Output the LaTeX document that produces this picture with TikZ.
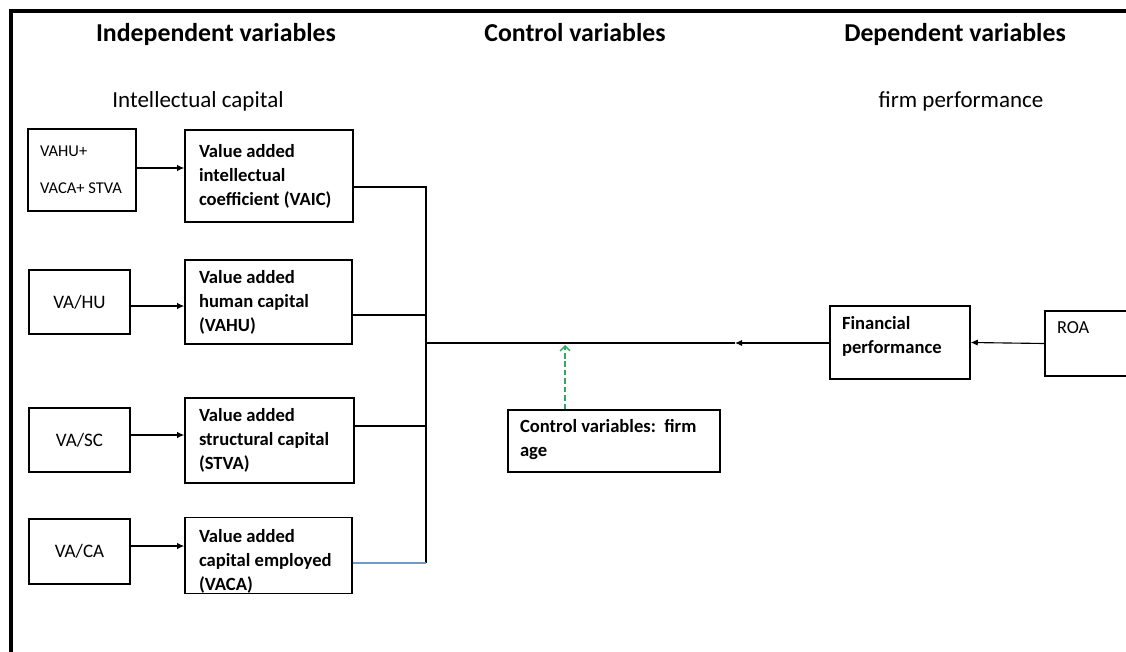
\documentclass[tikz,border=0pt]{standalone}
\usepackage{fontspec}
\setmainfont{Carlito}
\usetikzlibrary{arrows.meta,calc}
\definecolor{busblue}{HTML}{6F9BC4}
\definecolor{ctrlgreen}{HTML}{2FA864}
\tikzset{
  box/.style={draw, line width=1pt, inner xsep=0pt, inner ysep=0pt, align=flush left},
  bx/.style 2 args={minimum width=#1*0.709pt, minimum height=#2*0.709pt},
  bigbox/.style={box, font=\fontsize{13.2}{17}\selectfont\bfseries},
  smallbox/.style={box, align=center, font=\fontsize{13.5}{16}\selectfont},
  head/.style={anchor=base, font=\fontsize{18.3}{22}\selectfont\bfseries},
  subhead/.style={anchor=base, font=\fontsize{16.3}{19}\selectfont},
  conn/.style={line width=0.8pt},
  arr/.style={line width=0.8pt, -{Latex[length=5pt,width=4.5pt]}},
  ctrlarr/.style={line width=1pt, ctrlgreen, dashed, dash pattern=on 4pt off 2pt, -{Straight Barb[length=3.5pt,width=7pt]}},
}
\begin{document}
\begin{tikzpicture}[x=0.709pt,y=-0.709pt]
\useasboundingbox (0,0) rectangle (1126,652);
\clip (0,0) rectangle (1126,652);
% border
\draw[line width=3pt] (11,652) -- (11,11) -- (1130,11);
% headers
\node[head] (h1) at (216,42) {Independent variables};
\node[head] (h2) at (575,42) {Control variables};
\node[head] (h3) at (955,42) {Dependent variables};
\node[subhead] (s1) at (198,107) {Intellectual capital};
\node[subhead] (s3) at (961,107) {firm performance};
% left small boxes
\node[box, bx={108}{82}, text width=84*0.709pt, font=\fontsize{11.7}{14}\selectfont] (b0) at (82,170) {VAHU+\\[12pt]VACA+ STVA};
\node[smallbox, bx={101}{64}] (s2) at (79.5,302) {VA/HU};
\node[smallbox, bx={101}{64}] (s3b) at (79.5,440) {VA/SC};
\node[smallbox, bx={101}{65}] (s4) at (79.5,551.5) {VA/CA};
% middle boxes
\node[bigbox, bx={168}{92}, text width=140*0.709pt] (vaic) at (269,176) {Value added\\intellectual\\coefficient (VAIC)};
\node[bigbox, bx={167}{84}, text width=139*0.709pt] (vahu) at (268.5,302) {Value added\\human capital\\(VAHU)};
\node[bigbox, bx={169}{85}, text width=141*0.709pt] (stva) at (269.5,440.5) {Value added\\structural capital\\(STVA)};
\node[bigbox, bx={167}{73}, text width=139*0.709pt] (vaca) at (268.5,555.5) {\rule{0pt}{18pt}Value added\\capital employed\\(VACA)};
% right boxes
\node[bigbox, bx={212}{62}, text width=188*0.709pt] (ctrl) at (614,441) {Control variables:\ \ firm\\age\\[-13pt]\mbox{}};
\node[bigbox, bx={140}{73}, text width=116*0.709pt] (fp) at (900,342.5) {Financial\\performance\\[-6pt]\mbox{}};
\node[box, bx={115}{65}, text width=91*0.709pt, font=\fontsize{13}{22}\selectfont] (roa) at (1102.5,343.5) {ROA\\\mbox{}};
% arrows from small boxes
\draw[arr] (b0.east |- 0,168) coordinate (a0) -- (vaic.west |- a0);
\draw[arr] (s2.east |- 0,306) coordinate (a1) -- (vahu.west |- a1);
\draw[arr] (s3b.east |- 0,435) coordinate (a2) -- (stva.west |- a2);
\draw[arr] (s4.east |- 0,546) coordinate (a3) -- (vaca.west |- a3);
% bus
\coordinate (bA) at (426,187);
\coordinate (bB) at (426,315);
\coordinate (bC) at (426,426);
\coordinate (bD) at (426,563);
\coordinate (bM) at (426,343);
\coordinate (mid) at (735,343);
\coordinate (gx) at (565,345);
\draw[conn] (vaic.east |- bA) -- (bA) -- (bD);
\draw[conn] (vahu.east |- bB) -- (bB);
\draw[conn] (stva.east |- bC) -- (bC);
\draw[conn, busblue] (vaca.east |- bD) -- (bD);
\draw[arr] (fp.west |- mid) -- (mid);
\draw[conn] (mid) -- (bM);
\draw[arr] (roa.west) -- (fp.east);
\draw[ctrlarr] (ctrl.north -| gx) -- (gx);
\end{tikzpicture}
\end{document}
